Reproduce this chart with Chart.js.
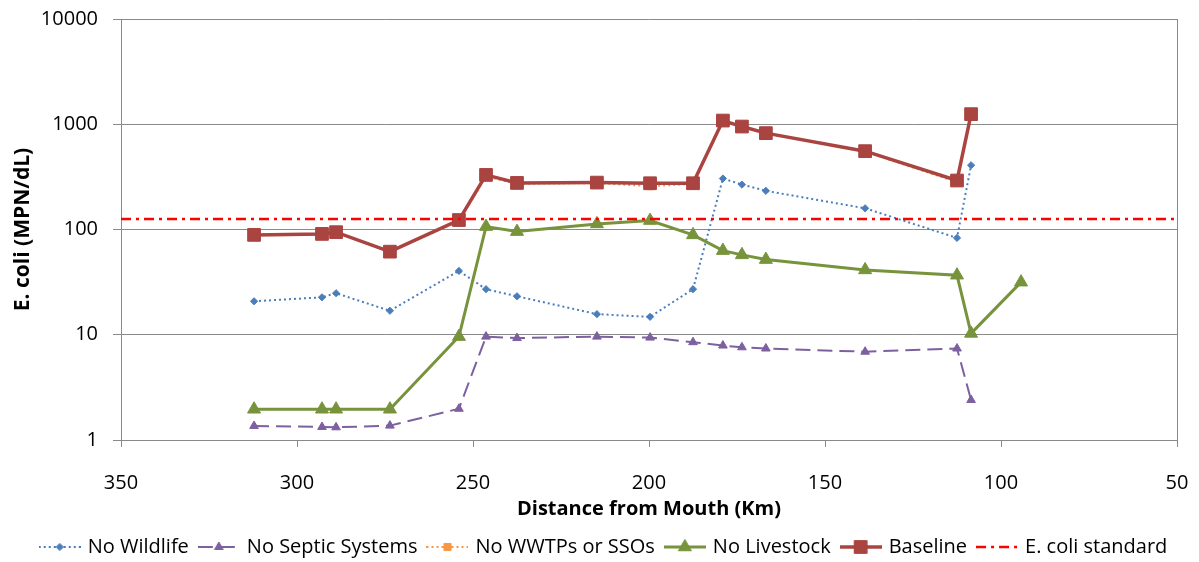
<!DOCTYPE html>
<html>
<head>
<meta charset="utf-8">
<script src="https://cdn.jsdelivr.net/npm/chart.js@4.4.1/dist/chart.umd.min.js"></script>
<style>
html,body{margin:0;padding:0;background:#fff;}
#wrap{width:1199px;height:562px;position:relative;}
</style>
</head>
<body>
<div id="wrap"><canvas id="c"></canvas></div>
<script>
// ---- data ----
const distanceKm   = [312.2, 292.9, 288.9, 273.6, 254.0, 246.3, 237.5, 214.8, 199.7, 187.5, 179.0, 173.6, 166.8, 138.6, 112.5, 108.5, 94.3];
const noWildlife   = [20.8, 22.7, 24.8, 16.9, 40.4, 27.1, 23.2, 15.7, 14.8, 27.1, 305, 267, 233, 159, 83.2, 408, null];
const noSeptic     = [1.36, 1.33, 1.32, 1.37, 1.98, 9.6, 9.3, 9.6, 9.4, 8.5, 7.9, 7.6, 7.4, 6.9, 7.4, 2.4, null];
const noWWTPs      = [88.9, 90.8, 94.3, 61.6, 120, 318, 272, 276, 258, 271, 1080, 945, 818, 550, 282, 1240, null];
const noLivestock  = [1.96, 1.96, 1.96, 1.96, 9.6, 106.6, 95.5, 113, 121.6, 88.9, 63, 57.4, 51.8, 41.3, 36.8, 10.3, 31.6];
const baseline     = [88.9, 90.8, 94.3, 61.6, 123, 330, 277, 279, 275, 275, 1084, 951, 823, 555, 292, 1247, null];
const standardKm   = [350, 50];
const standardVal  = [126, 126];
const seriesNames  = ['No Wildlife', 'No Septic Systems', 'No WWTPs or SSOs', 'No Livestock', 'Baseline', 'E. coli standard'];
const yTickValues  = [1, 10, 100, 1000, 10000];
const xTickValues  = [350, 300, 250, 200, 150, 100, 50];
const xTitle = 'Distance from Mouth (Km)';
const yTitle = 'E. coli (MPN/dL)';

function pts(xs, ys) {
  const out = [];
  xs.forEach((x, i) => { if (ys[i] !== null && ys[i] !== undefined) out.push({x: x, y: ys[i]}); });
  return out;
}

const FONT = 'Open Sans';
const GRID = '#8a8a8a';

const datasets = [
  {label: seriesNames[0], data: pts(distanceKm, noWildlife), borderColor: '#4A7EBB', backgroundColor: '#4A7EBB',
   borderWidth: 2, borderDash: [2, 3], pointStyle: 'rectRot', pointRadius: 3.6, pointBorderWidth: 1, order: 10},
  {label: seriesNames[1], data: pts(distanceKm, noSeptic), borderColor: '#7D60A0', backgroundColor: '#7D60A0',
   borderWidth: 2, borderDash: [15, 7], pointStyle: 'triangle', pointRadius: 5, pointBorderWidth: 1, order: 9},
  {label: seriesNames[2], data: pts(distanceKm, noWWTPs), borderColor: '#F79646', backgroundColor: '#F79646',
   borderWidth: 2, borderDash: [2, 3], pointStyle: 'rect', pointRadius: 5, pointBorderWidth: 1, order: 8},
  {label: seriesNames[3], data: pts(distanceKm, noLivestock), borderColor: '#77933C', backgroundColor: '#77933C',
   borderWidth: 3, pointStyle: 'triangle', pointRadius: 7.5, pointBorderWidth: 1, order: 7},
  {label: seriesNames[4], data: pts(distanceKm, baseline), borderColor: '#A94441', backgroundColor: '#A94441',
   borderWidth: 3.5, pointStyle: 'rect', pointRadius: 9, pointBorderWidth: 1, order: 6},
  {label: seriesNames[5], data: pts(standardKm, standardVal), borderColor: '#FF0000', backgroundColor: '#FF0000',
   borderWidth: 2.5, borderDash: [10, 5, 3, 5], pointRadius: 0, order: 5}
];

function makeIcon(ds) {
  const cv = document.createElement('canvas');
  cv.width = 42; cv.height = 20;
  const g = cv.getContext('2d');
  g.strokeStyle = ds.borderColor;
  g.lineWidth = ds.borderWidth;
  g.setLineDash(ds.borderDash || []);
  g.beginPath(); g.moveTo(0, 10); g.lineTo(42, 10); g.stroke();
  g.setLineDash([]);
  if (ds.pointRadius > 0) {
    g.fillStyle = ds.backgroundColor;
    g.strokeStyle = ds.borderColor;
    g.lineWidth = 1;
    Chart.helpers.drawPoint(g, {pointStyle: ds.pointStyle, radius: ds.pointRadius, borderWidth: 1, rotation: 0}, 21, 10);
  }
  return cv;
}
const icons = datasets.map(makeIcon);

new Chart(document.getElementById('c'), {
  type: 'line',
  data: {datasets: datasets},
  options: {
    responsive: true,
    maintainAspectRatio: false,
    animation: false,
    devicePixelRatio: 1,
    elements: {line: {tension: 0, fill: false}},
    layout: {padding: {left: 10, right: 0, top: 19, bottom: -5}},
    plugins: {
      tooltip: {enabled: false},
      legend: {
        position: 'bottom',
        labels: {
          usePointStyle: true,
          pointStyleWidth: 36,
          padding: 12,
          color: '#000',
          font: {family: FONT, size: 20},
          generateLabels: (chart) => chart.data.datasets.map((ds, i) => ({
            text: ds.label, pointStyle: icons[i], datasetIndex: i, hidden: false,
            lineWidth: 0, strokeStyle: 'rgba(0,0,0,0)', fillStyle: 'rgba(0,0,0,0)', fontColor: '#000'
          }))
        }
      }
    },
    scales: {
      x: {
        type: 'linear', reverse: true, min: 50, max: 350,
        afterBuildTicks: (s) => { s.ticks = xTickValues.map(v => ({value: v})); },
        afterFit: (s) => { s.height = 85; s.paddingLeft = 0; s.paddingRight = 0; },
        ticks: {color: '#000', font: {family: FONT, size: 20}, padding: 24, maxRotation: 0, autoSkip: false},
        grid: {drawOnChartArea: false, drawTicks: true, tickLength: 7, color: GRID, tickColor: GRID},
        border: {display: true, color: GRID},
        title: {display: true, text: xTitle, color: '#000', font: {family: FONT, size: 20, weight: 'bold'}, padding: {top: 0, bottom: 4}}
      },
      y: {
        type: 'logarithmic', min: 1, max: 10000, position: 'left',
        afterBuildTicks: (s) => { s.ticks = yTickValues.map(v => ({value: v})); },
        afterFit: (s) => { s.width = 111; s.paddingTop = 0; s.paddingBottom = 0; },
        ticks: {color: '#000', font: {family: FONT, size: 20}, padding: 15, autoSkip: false, callback: (v) => String(v)},
        grid: {color: GRID, tickLength: 8, drawTicks: true},
        border: {display: true, color: GRID},
        title: {display: true, text: yTitle, color: '#000', font: {family: FONT, size: 21, weight: 'bold'}, padding: {top: 0, bottom: 0}}
      },
      y2: {
        type: 'linear', position: 'right', min: 0, max: 1,
        afterFit: (s) => { s.width = 22; s.paddingTop = 0; s.paddingBottom = 0; },
        ticks: {display: false},
        grid: {drawOnChartArea: false, drawTicks: false},
        border: {display: true, color: GRID}
      }
    }
  }
});
</script>
</body>
</html>
